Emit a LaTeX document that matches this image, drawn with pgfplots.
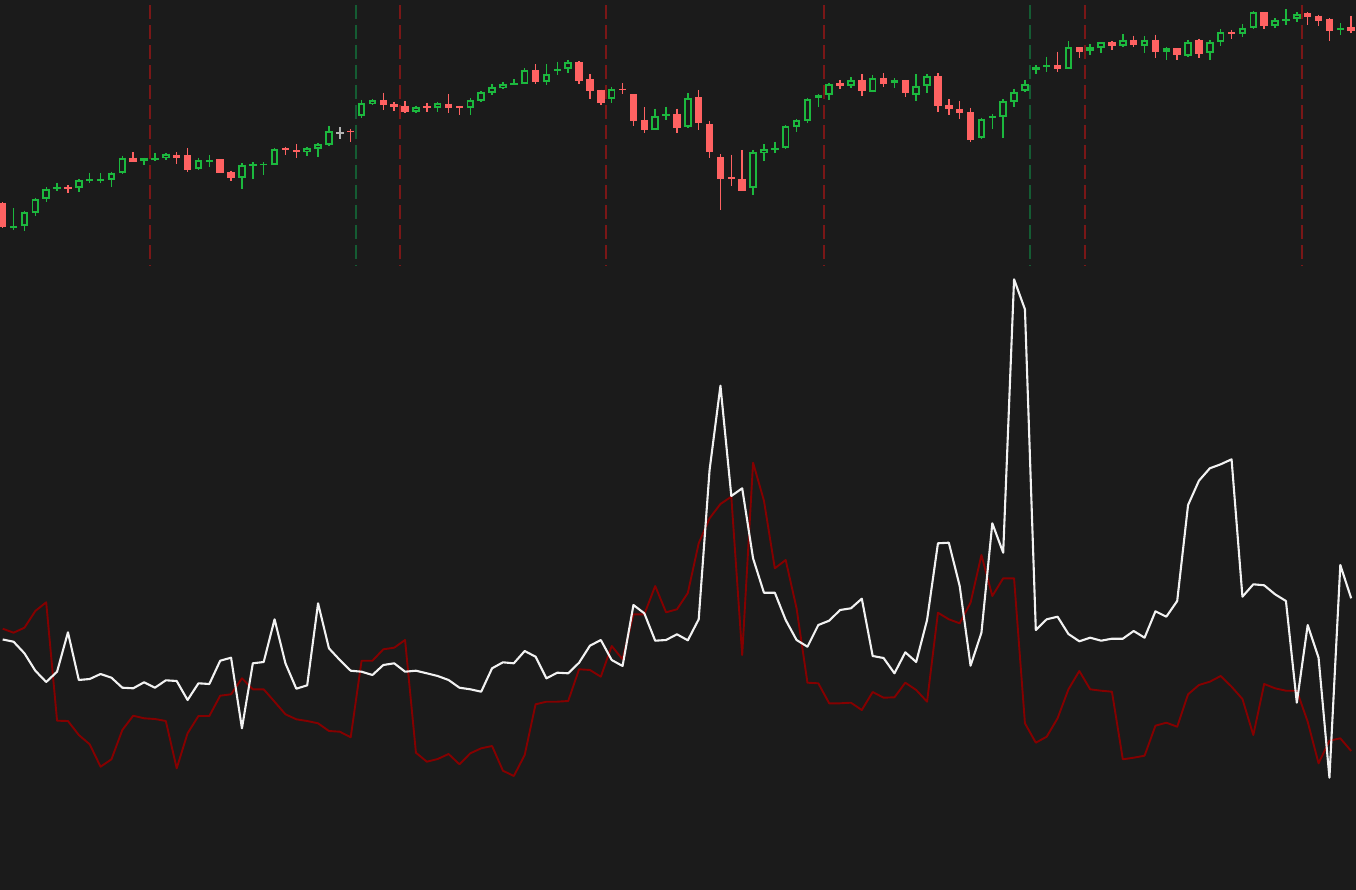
\documentclass[border=0pt]{standalone}
\usepackage{pgfplots}
\usepackage{pgfplotstable}
\pgfplotsset{compat=1.18}
\definecolor{bg}{HTML}{1B1B1B}
\definecolor{cup}{HTML}{1CB83E}
\definecolor{cdn}{HTML}{FF6262}
\definecolor{cflat}{HTML}{B4B4B4}
\definecolor{vred}{HTML}{7A1717}
\definecolor{vgreen}{HTML}{155C33}
\definecolor{lwhite}{HTML}{F2F2F2}
\definecolor{lred}{HTML}{850000}

% candle readings (vertical positions, top = 0)
\pgfplotstableread{
i hi lo bt bb
1 208.3 230 226 227.3
2 210.7 230.7 212.3 226
3 197.7 215.7 199 213
4 187.3 201.7 188.7 199
5 182.7 190.7 186.7 189.3
7 179.3 192 180.3 188.3
8 172.7 182.7 179.3 181
9 173.3 182.7 179.3 181
10 171.7 186.7 172.7 180
11 155.7 174 157.7 173.3
13 157.7 164.7 158.3 160.7
14 152.7 160.7 158 159
15 153.3 160 153.7 158
18 157.7 170 160.3 169.3
19 155.3 166.7 160 161
22 163.3 189.3 164.7 178
23 162 178.7 164.3 166
24 162.3 175 163.7 165
25 148.3 164.7 149.3 164.7
28 146.7 156 148.3 152.3
29 143.3 157.3 144.3 148.7
30 126 146 131.3 145
33 100 118.3 103.3 115.7
34 99.3 105 100 104.3
38 105.7 113 107 111.7
40 101.7 112 103 108
43 98.3 115.3 100 108
44 91.3 102 92.3 100.7
45 84 94.7 87 93.3
46 81.7 89 84 88.3
47 79.3 84.3 83 84.3
48 68.3 84 70 83.7
50 64.3 85.3 74 81.7
51 61.7 75.3 69 71.3
52 60 73.3 62.3 69.3
56 86.7 102.7 89 99.3
60 108.7 130 116 130
61 106.7 120 114.3 116.3
63 93.3 127.7 98.3 127
69 150 194.7 151.7 188.3
70 144.3 160.7 149.3 153.3
71 141.7 153.3 148 149.7
72 125 148.7 126.3 148
73 119 131.7 119.7 127
74 97.7 123.3 99 120.7
75 94.3 107.3 95 98.3
76 82.7 99.7 84 95
78 77.3 88.3 80.3 86.3
80 75 92.3 78.3 92.3
82 78.3 88.3 80.3 83.3
84 74.3 100.7 86 95.3
85 74.3 93.3 76 86.3
90 117.7 139.3 118.7 138.3
91 114 129.3 116 118.3
92 99.3 138.3 101 116.7
93 88.7 106.7 91.7 101.7
94 80 91.7 84.3 91
95 65.3 74 67.3 70.3
96 56.7 72.3 65.3 67.3
98 41.3 68.7 47.3 68.7
100 44.3 55.3 47.3 50.7
101 42.3 52.7 42.3 47.7
103 34 47.3 39.7 46
105 36 52.7 39.7 45.7
107 47.3 60 48.3 51.7
109 40 56.7 42.3 55.7
111 40 60 41.7 53.3
112 29.3 46 32.3 42.3
114 24 37.3 27.7 33.7
115 11.3 29.3 12.3 28
117 18.3 28 20 26.3
118 9.3 24.7 19 21.3
119 12.3 22.3 14 19.3
123 23.3 35.3 28.3 30.3
}\upc

\pgfplotstableread{
i hi lo bt bb
0 202 228 202.7 227.3
6 185.3 193.3 186.7 188.7
12 152.3 162 157.7 162
16 152.3 163.7 154.7 158
17 148 172.3 155.3 170
20 159.3 173.3 159.3 173.3
21 170.7 180.7 172.3 177.7
26 146.7 154.7 148 150
27 144 158.3 150.3 152.3
32 129 141.7 130.7 132.3
35 92.7 110 100 105.3
36 101.7 111 104.3 107
37 101 113.3 105.7 112.3
39 102.7 112 106.3 108.3
41 94 113.3 103.7 108.3
42 105.7 115 106 108
49 64.3 84 70 82
53 61 84 62.3 81
54 74.3 99.3 79.3 91
55 89.7 105 89.7 102.7
57 83.3 93.7 88.7 90.3
58 94.3 125.7 94.3 120.7
59 107.3 132.7 120 130
62 108.7 132.7 114 128
64 90 130 97.3 123.3
65 121 158.3 124.3 151.7
66 154.3 210 157.3 179
67 154.7 185.7 177 178.7
68 150 191.3 179 190.7
77 80 89.3 83 86.3
79 74 96 80 91.3
81 73.3 86.7 78.3 83.7
83 80 96.7 80 93.3
86 73.3 112.3 76.3 106.3
87 99.3 114.7 105.3 109.3
88 101 118.7 108.7 113
89 107.7 142.3 112.3 140
97 51.7 72.3 65.3 68.7
99 47.3 58.3 47.3 51.7
102 41.3 50 42.3 46
104 35.7 46.7 39.7 45
106 34.7 58.3 39.7 51.7
108 48.3 60 48.3 55.3
110 38.7 58.3 40.3 54.3
113 30 38.7 32 34
116 12.3 29.3 12.3 26.3
120 12.3 25 13.3 16.7
121 14.7 26 15.7 20.7
122 18.3 41.3 18.7 31
124 15.7 32.7 27.3 31
}\dnc

\pgfplotstableread{
i hi lo bt bb
31 127.3 138.7 132 133.3
}\flc

\pgfplotstableread{
x y
13.5 5
36.5 5
55.5 5
75.5 5
99.5 5
119.5 5
}\vreds

\pgfplotstableread{
x y
32.5 5
94.5 5
}\vgreens

% indicator lines (vertical positions, top = 0)
\pgfplotstableread{
i w r
0 639.5 628.7
1 641.7 632.7
2 653.3 627.7
3 670.7 611
4 682 602.3
5 671.7 720.7
6 632.3 721
7 680 735
8 679 744.3
9 674 766.7
10 677.7 759.3
11 687.7 730
12 688.3 715.7
13 682.3 718.3
14 687.7 719
15 680.3 721
16 681 768.3
17 700 733.3
18 683.3 716
19 684 716
20 660.7 695.7
21 657.7 694.3
22 728.3 678.3
23 663.3 689.3
24 662 689.3
25 619.3 701.7
26 663.3 714.3
27 688.7 719.3
28 685.3 721
29 603.3 723.3
30 648.3 731
31 660 731.7
32 670.7 737.3
33 671.7 660.7
34 675 660.7
35 665 649.3
36 663.3 647.7
37 671.7 640
38 670.7 752.7
39 673.3 761.7
40 676 759
41 680 754
42 687.7 764.3
43 689.3 753.3
44 691.7 748.3
45 668.3 746
46 662.3 770.7
47 663.3 776
48 651 755
49 656.7 704.3
50 678.3 701.7
51 672.7 701.7
52 673.3 701
53 662.7 669.3
54 645.7 670
55 640 676.7
56 660 646
57 666 659.3
58 605 614.3
59 613.3 614.3
60 640.7 586
61 640 612.3
62 634.3 609.3
63 640.3 593
64 619.3 543.3
65 470 518.3
66 385.7 504
67 496 496.7
68 488.3 655
69 558.3 462.7
70 592.7 500.7
71 592.7 568.3
72 620 560
73 640 608.3
74 646.7 682.7
75 625 683.3
76 620.7 703.3
77 610 703.3
78 608.3 702.7
79 598.7 710
80 656 692
81 658 697.7
82 673.3 697.3
83 652.3 682.7
84 662 690
85 620 701.7
86 543.3 612.7
87 542.7 619.3
88 586 623.3
89 665.7 602.7
90 632.7 555
91 523.3 596
92 552.7 578.3
93 279.3 578.3
94 309.3 723.3
95 630 742.7
96 619.3 736.7
97 616.7 718.3
98 634 689.3
99 641.3 671
100 637.7 689.3
101 640.7 690.7
102 638.7 691.7
103 638.7 759.3
104 631 757.7
105 637.7 755.7
106 611.3 725.7
107 616.7 722.7
108 601 726.7
109 505 694.3
110 480.7 685
111 468.3 681.7
112 464.3 676
113 459.3 686.7
114 596.7 699
115 584.3 735
116 585.3 684
117 594.3 688.3
118 601 690.7
119 702.7 690.7
120 625 721.7
121 657.7 763.3
122 777.7 740.7
123 565 738.3
124 598.3 751
}\lines

\begin{document}
\begin{tikzpicture}
\path[use as bounding box, fill=bg] (0,0) rectangle (1356pt,890pt);
\begin{axis}[
  at={(0,0)}, anchor=south west,
  scale only axis, width=1356pt, height=890pt,
  xmin=-0.2483, xmax=124.443,
  ymin=0, ymax=890, y dir=reverse,
  hide axis, clip=true,
]
% vertical dashed markers
\addplot[vred, line width=2pt, dash pattern=on 14pt off 6pt, no markers,
  quiver={u=0, v=261}] table[x=x, y=y] {\vreds};
\addplot[vgreen, line width=2pt, dash pattern=on 14pt off 6pt, no markers,
  quiver={u=0, v=261}] table[x=x, y=y] {\vgreens};
% wicks
\addplot[cup, line width=1.4pt, no markers,
  quiver={u=0, v={\thisrow{lo}-\thisrow{hi}}}] table[x=i, y=hi] {\upc};
\addplot[cdn, line width=1.4pt, no markers,
  quiver={u=0, v={\thisrow{lo}-\thisrow{hi}}}] table[x=i, y=hi] {\dnc};
\addplot[cflat, line width=1.4pt, no markers,
  quiver={u=0, v={\thisrow{lo}-\thisrow{hi}}}] table[x=i, y=hi] {\flc};
% bodies
\addplot[cdn, line width=7.5pt, no markers,
  quiver={u=0, v={max(\thisrow{bb}-\thisrow{bt},1.6)}}] table[x=i, y=bt] {\dnc};
\addplot[cflat, line width=7.5pt, no markers,
  quiver={u=0, v={max(\thisrow{bb}-\thisrow{bt},1.6)}}] table[x=i, y=bt] {\flc};
\addplot[cup, line width=7.5pt, no markers,
  quiver={u=0, v={max(\thisrow{bb}-\thisrow{bt},1.6)}}] table[x=i, y=bt] {\upc};
\addplot[bg, line width=3.7pt, no markers,
  quiver={u=0, v={max(\thisrow{bb}-\thisrow{bt}-3.8,0)}}] table[x=i, y expr=\thisrow{bt}+1.9] {\upc};
% indicator lines
\addplot[lred, line width=1.9pt, line join=round, no markers] table[x=i, y=r] {\lines};
\addplot[lwhite, line width=2.1pt, line join=round, no markers] table[x=i, y=w] {\lines};
\end{axis}
\end{tikzpicture}
\end{document}
